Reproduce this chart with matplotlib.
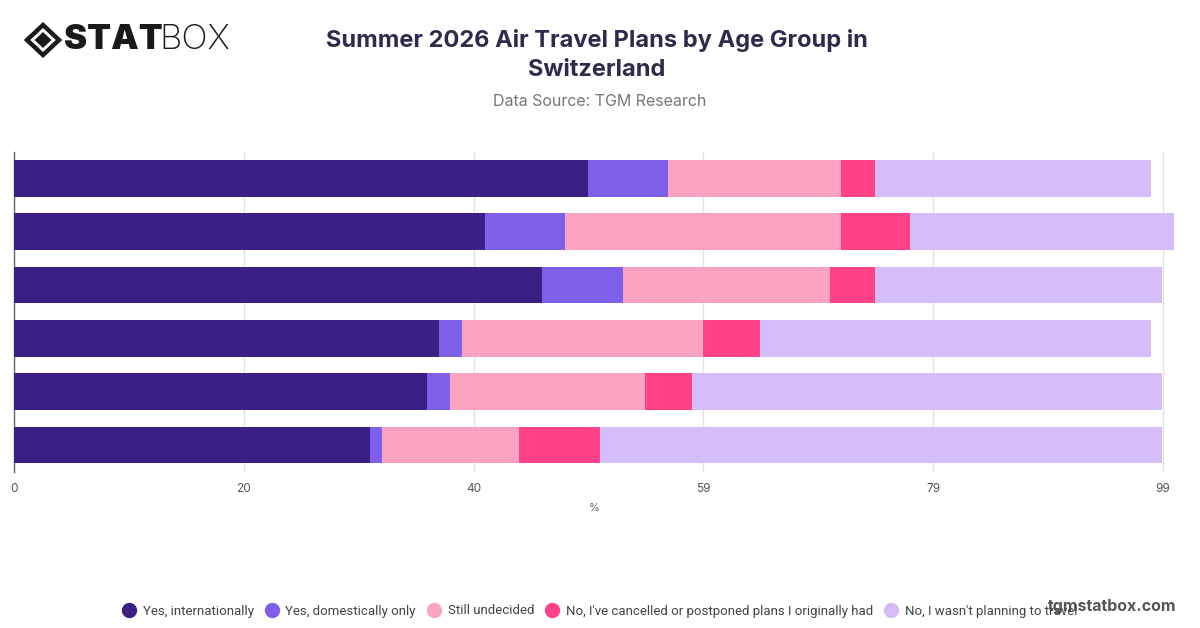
import matplotlib.pyplot as plt
from matplotlib.patches import Polygon
from matplotlib.lines import Line2D
import numpy as np

plt.rcParams["font.family"] = ["Inter", "DejaVu Sans"]

# bars top to bottom (age groups are not labelled in the source chart)
groups = ["Group 1", "Group 2", "Group 3", "Group 4", "Group 5", "Group 6"]
series_names = [
    "Yes, internationally",
    "Yes, domestically only",
    "Still undecided",
    "No, I've cancelled or postponed plans I originally had",
    "No, I wasn't planning to travel",
]
yes_intl = [49.5, 40.6, 45.5, 36.6, 35.6, 30.7]
yes_dom = [6.9, 6.9, 7.0, 2.0, 2.0, 1.0]
undecided = [14.9, 23.8, 17.8, 20.8, 16.8, 11.8]
cancelled = [2.9, 5.9, 3.9, 4.9, 4.0, 7.0]
not_planning = [23.8, 22.8, 24.7, 33.7, 40.5, 48.4]
colors = ["#3a1f84", "#7e5fea", "#fba3c3", "#ff4287", "#d5bdf9"]

tick_vals = np.linspace(0, 99, 6)

fig = plt.figure(figsize=(12, 6.28), dpi=100)
ax = fig.add_axes([0.0118, 0.2489, 0.9668, 0.5095])

y = np.arange(len(groups))
left = np.zeros(len(groups))
for name, vals, col in zip(series_names,
                           [yes_intl, yes_dom, undecided, cancelled, not_planning],
                           colors):
    ax.barh(y, vals, left=left, height=0.69, color=col, label=name, zorder=3)
    left += np.array(vals)

ax.set_xlim(0, 100)
ax.set_ylim(len(groups) - 0.5, -0.5)
ax.set_yticks(y)
ax.set_yticklabels([])
ax.tick_params(axis="y", length=0)
ax.set_xticks(tick_vals)
ax.set_xticklabels([f"{v:.0f}" for v in tick_vals], fontsize=8.5, color="#555555")
ax.tick_params(axis="x", length=0, pad=8)
ax.grid(axis="x", color="#e2e2e2", lw=1, zorder=0)
ax.axvline(100, color="#e2e2e2", lw=1, zorder=0)
for s in ["top", "right", "bottom"]:
    ax.spines[s].set_visible(False)
ax.spines["left"].set_color("#666666")
ax.spines["left"].set_linewidth(1)
ax.set_xlabel("%", fontsize=8, color="#666666", labelpad=6)

# title block
fig.text(0.4975, 1 - 40 / 628, "Summer 2026 Air Travel Plans by Age Group in",
         ha="center", va="center", fontsize=17, fontweight="bold", color="#2e2b4d")
fig.text(0.4975, 1 - 70 / 628, "Switzerland",
         ha="center", va="center", fontsize=17, fontweight="bold", color="#2e2b4d")
fig.text(0.5, 1 - 101 / 628, "Data Source: TGM Research",
         ha="center", va="center", fontsize=11.5, color="#777777")

# logo
cx, cy = 43 / 1200, 1 - 40 / 628
rx, ry = 16 / 1200, 15 / 628
outer = Polygon([(cx - rx, cy), (cx, cy + ry), (cx + rx, cy), (cx, cy - ry)],
                closed=True, fill=False, ec="#1a1a1a", lw=3.2, transform=fig.transFigure)
ix, iy = 8.5 / 1200, 8 / 628
inner = Polygon([(cx - ix, cy), (cx, cy + iy), (cx + ix, cy), (cx, cy - iy)],
                closed=True, fc="#1a1a1a", ec="none", transform=fig.transFigure)
fig.patches.extend([outer, inner])
fig.text(64 / 1200, cy, "STAT", ha="left", va="center", fontsize=25,
         fontweight="black", color="#1a1a1a")
fig.text(159 / 1200, cy, "BOX", ha="left", va="center", fontsize=25,
         fontweight="light", color="#1a1a1a")

# legend with round markers
handles = [Line2D([], [], ls="none", marker="o", markersize=10, color=c) for c in colors]
fig.legend(handles, series_names, loc="center", bbox_to_anchor=(0.5, 1 - 611 / 628),
           ncol=5, frameon=False, prop={"family": "Roboto", "size": 9.5},
           handlelength=1.0, handletextpad=0.5, columnspacing=0.9,
           labelcolor="#444444")

fig.text(1176 / 1200, 1 - 606 / 628, "tgmstatbox.com", ha="right", va="center",
         fontsize=11.5, fontweight="bold", color="#555555")

fig.savefig("out.png", dpi=100)
